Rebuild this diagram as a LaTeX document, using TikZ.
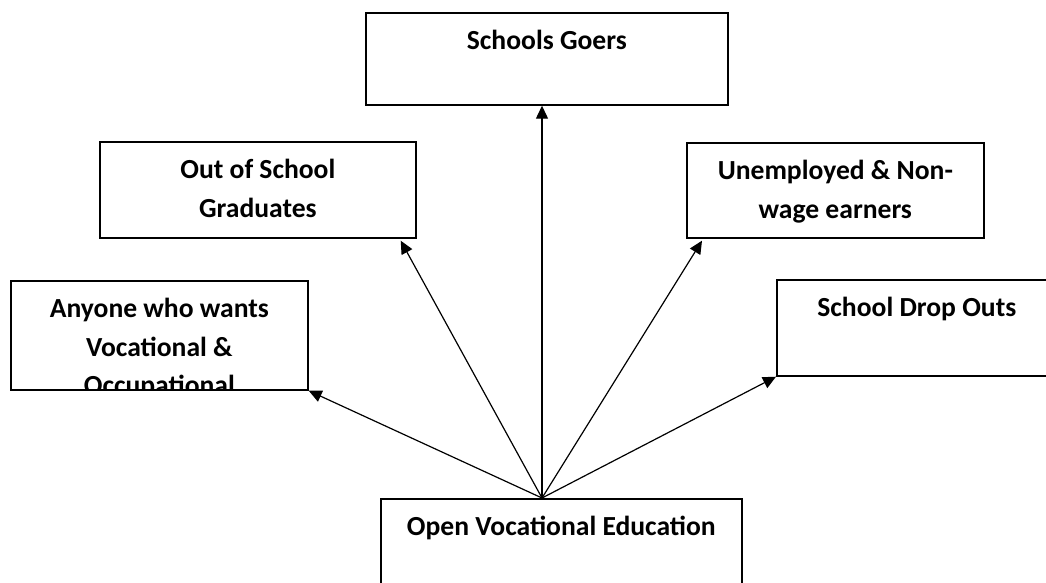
\documentclass[tikz,border=0pt]{standalone}
\usepackage{fontspec}
\setmainfont{Carlito}
\usepackage{tikz}
\usetikzlibrary{arrows.meta}

\begin{document}
\begin{tikzpicture}[x=1pt,y=-1pt,
    box/.style={draw,line width=1.7pt,inner sep=0pt,anchor=north west},
    lbl/.style={anchor=north,align=center,inner sep=0pt,yshift=-18pt,
      font=\bfseries\fontsize{27.6}{38.5}\selectfont},
    arr/.style={line width=1.2pt,-{Triangle[length=13pt,width=12pt]}}]
          \useasboundingbox (0,0) rectangle (1046,583);
          \node[box,minimum width=362pt,minimum height=92pt] (goers) at (365,12) {};
          \node[box,minimum width=316pt,minimum height=96pt] (outschool) at (99,141) {};
          \node[box,minimum width=297pt,minimum height=95pt] (unemployed) at (686,142) {};
          \node[box,minimum width=297pt,minimum height=109pt] (anyone) at (10,280) {};
          \node[box,minimum width=280pt,minimum height=96pt] (dropouts) at (776,279) {};
          \node[box,minimum width=361pt,minimum height=110pt] (openvoc) at (380,498) {};
          \node[lbl] (goerstxt) at (goers.north) {Schools Goers};
          \node[lbl] (outschooltxt) at (outschool.north) {Out of School\\Graduates};
          \node[lbl] (unemployedtxt) at (unemployed.north) {Unemployed \& Non-\\wage earners};
          \node[lbl] (dropoutstxt) at (dropouts.north) {School Drop Outs};
          \node[lbl] (openvoctxt) at (openvoc.north) {Open Vocational Education};
          \begin{scope}
            \clip (anyone.south west) rectangle (anyone.north east);
            \node[lbl] (anyonetxt) at (anyone.north) {Anyone who wants\\Vocational \&\\Occupational};
          \end{scope}
          \coordinate (hub) at (542,498);
          \draw[arr] (hub) -- (hub |- goers.south);
          \draw[arr] (hub) -- ([xshift=-16pt,yshift=-2pt]outschool.south east);
          \draw[arr] (hub) -- ([xshift=16pt,yshift=-2pt]unemployed.south west);
          \draw[arr] (hub) -- (anyone.south east);
          \draw[arr] (hub) -- (dropouts.south west);
        \end{tikzpicture}
\end{document}
